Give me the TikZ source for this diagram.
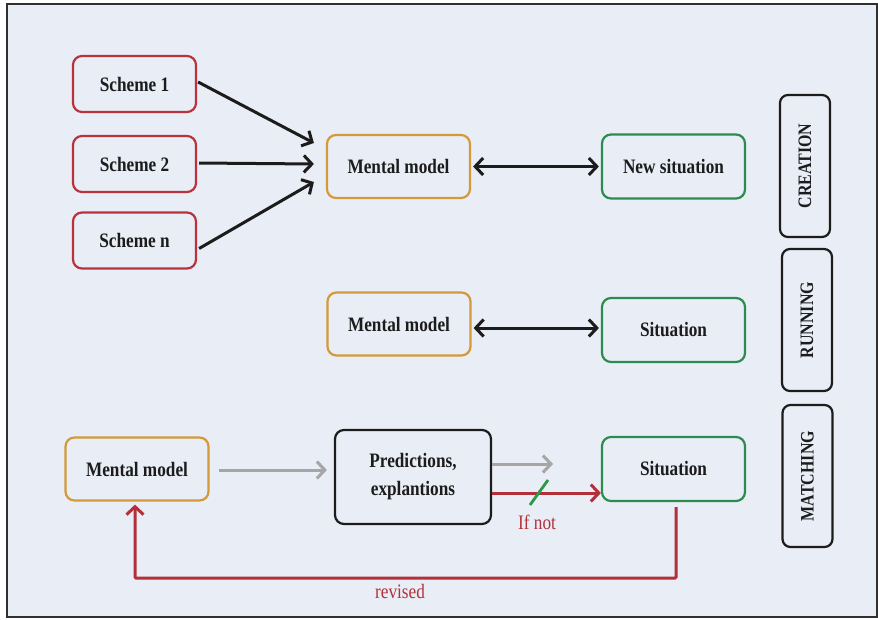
\documentclass[tikz,border=0pt]{standalone}
\usepackage{fontspec}
\setmainfont{Liberation Serif}[FakeStretch=0.84]
\usetikzlibrary{arrows.meta,calc}

\definecolor{panel}{HTML}{E9EDF5}
\definecolor{frameline}{HTML}{303030}
\definecolor{schemered}{HTML}{B8333D}
\definecolor{modelorange}{HTML}{D49A3A}
\definecolor{sitgreen}{HTML}{2E8B4E}
\definecolor{inkblack}{HTML}{1C1C1C}
\definecolor{revred}{HTML}{B3303A}
\definecolor{fadegray}{HTML}{A6A6A6}
\definecolor{slashgreen}{HTML}{2A9A48}

\tikzset{
  box/.style={draw, line width=2.2pt, rounded corners=9pt, fill=panel,
    text=inkblack, font=\fontsize{20.5}{24}\selectfont\bfseries, align=center,
    inner sep=0pt},
  schemebox/.style={box, draw=schemered, minimum width=123pt, minimum height=56pt},
  modelbox/.style={box, draw=modelorange, minimum width=143pt, minimum height=63pt},
  sitbox/.style={box, draw=sitgreen, minimum width=143pt, minimum height=64pt},
  predbox/.style={box, draw=inkblack, minimum width=156pt, minimum height=94pt,
    font=\fontsize{20.5}{28}\selectfont\bfseries},
  phasebox/.style={box, draw=inkblack, rounded corners=8pt, rotate=90,
    minimum width=142pt, minimum height=50pt,
    font=\fontsize{19}{22}\selectfont\bfseries},
  tip/.style={-{Straight Barb[length=8pt,width=17pt]}},
  biarrow/.style={{Straight Barb[length=8pt,width=17pt]}-{Straight Barb[length=8pt,width=17pt]},
    draw=inkblack, line width=3pt},
  blackarrow/.style={tip, draw=inkblack, line width=3pt},
  grayarrow/.style={tip, draw=fadegray, line width=3pt},
  redarrow/.style={tip, draw=revred, line width=3pt},
  redlabel/.style={text=revred, font=\fontsize{20.5}{24}\selectfont},
}

\begin{document}
\begin{tikzpicture}[x=1pt,y=-1pt]
  \useasboundingbox (0,0) rectangle (878,619);
  \fill[white] (0,0) rectangle (878,619);
  \draw[frameline, line width=2pt, fill=panel] (7,4) rectangle (877,617);

  % creation row
  \node[schemebox] (s1) at (134.5,84)  {Scheme 1};
  \node[schemebox] (s2) at (134.5,164) {Scheme 2};
  \node[schemebox] (sn) at (134.5,240.5) {Scheme n};
  \node[modelbox] (mm1) at (398.5,166.5) {Mental model};
  \node[sitbox]   (ns1) at (673.5,166.5) {New situation};

  \draw[blackarrow] ($(s1.east)+(1,-2)$) -- ($(mm1.west)+(-12,-23.5)$);
  \draw[blackarrow] ($(s2.east)+(2,-1)$) -- ($(mm1.west)+(-12,-2.5)$);
  \draw[blackarrow] ($(sn.east)+(2,8)$)  -- ($(mm1.west)+(-12,15.5)$);
  \draw[biarrow, shorten <=2pt, shorten >=2pt] (mm1.east) -- (ns1.west);

  % running row
  \node[modelbox] (mm2) at (399,324) {Mental model};
  \node[sitbox]   (st2) at (673.5,330) {Situation};
  \draw[biarrow, shorten <=2pt, shorten >=2pt] ($(mm2.east)+(0,4)$) -- (st2.west |- {$(mm2.east)+(0,4)$});

  % matching row
  \node[modelbox] (mm3) at (137,469) {Mental model};
  \node[predbox]  (pr)  at (413,477) {Predictions,\\explantions};
  \node[sitbox]   (st3) at (673.5,469) {Situation};

  \draw[grayarrow] ($(mm3.east)+(9,1)$) -- ($(pr.west)+(-7,-7)$);
  \coordinate (free) at (553,464);
  \draw[grayarrow] (pr.east |- free) -- (free);
  \draw[redarrow] ($(pr.east)+(0,16)$) -- (st3.west |- {$(pr.east)+(0,16)$});
  \draw[slashgreen, line width=2.8pt] (530,505) -- (548,480);
  \node[redlabel] (ifnot) at (537,522) {If not};

  \coordinate (bend) at (135,578);
  \draw[redarrow, rounded corners=1pt] ($(st3.south)+(2.5,5)$) |- (bend) -- ($(mm3.south)+(-2,3)$);
  \node[redlabel] (rev) at (400,591) {revised};

  % phase labels
  \node[phasebox] (creation) at (805,166)   {CREATION};
  \node[phasebox] (running)  at (807,320)   {RUNNING};
  \node[phasebox] (matching) at (807.5,476) {MATCHING};
\end{tikzpicture}
\end{document}
